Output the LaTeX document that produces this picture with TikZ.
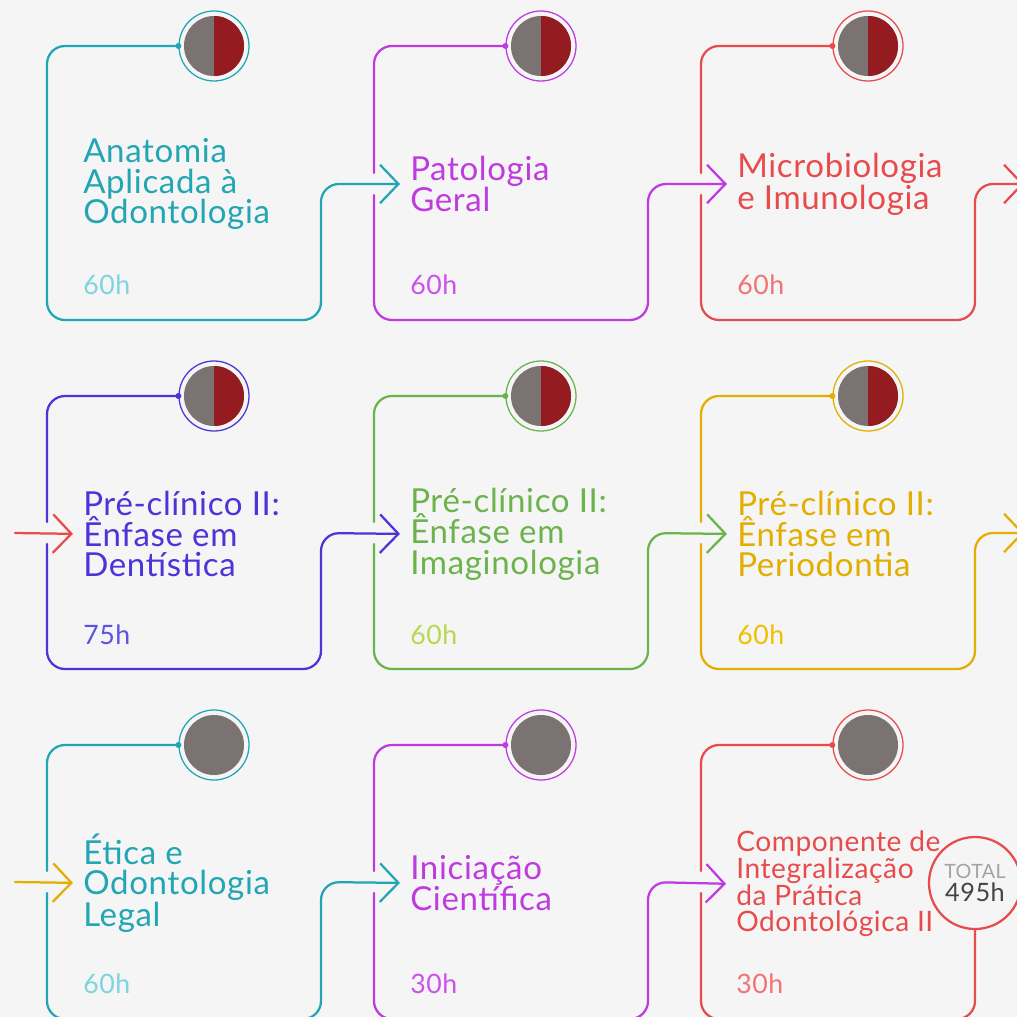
\documentclass[tikz,border=0pt]{standalone}
\usepackage{fontspec}
\setmainfont{Lato}[LetterSpace=2]
\usetikzlibrary{arrows.meta}
\definecolor{bgGrey}{HTML}{F5F5F6}
\definecolor{cTeal}{HTML}{22A6B3}\definecolor{hTeal}{HTML}{7ED4DF}
\definecolor{cMag}{HTML}{BF3BDF}\definecolor{hMag}{HTML}{CB52EC}
\definecolor{cRed}{HTML}{E84B4B}\definecolor{hRed}{HTML}{F07474}
\definecolor{cBlue}{HTML}{4B34D8}\definecolor{hBlue}{HTML}{5E52E0}
\definecolor{cGreen}{HTML}{6BB44B}\definecolor{hGreen}{HTML}{B6D94E}
\definecolor{cGold}{HTML}{E2AE00}\definecolor{hGold}{HTML}{EFC000}
\definecolor{iconGrey}{HTML}{7B7371}\definecolor{iconRed}{HTML}{941B1F}
\definecolor{totGrey}{HTML}{A3A3A3}\definecolor{totDark}{HTML}{454545}
\tikzset{
  edge/.style={line width=1.6pt, rounded corners=0.45cm, line cap=round},
  into/.style={-{Straight Barb[length=4.6mm,width=9.6mm]}, shorten >=0.25cm},
  ring/.style={circle, draw, line width=0.9pt, minimum size=1.75cm, inner sep=0pt},
  title/.style={anchor=west, align=left, inner sep=0pt, font=\fontsize{23.5}{21.5}\selectfont},
  hours/.style={anchor=base west, inner sep=0pt, font=\fontsize{19}{19}\selectfont},
}
% #1 name, #2 left, #3 top, #4 colour, #5 hours colour, #6 title, #7 hours, #8 half red
\newcommand\course[8]{%
  \node[ring, draw=#4] (#1i) at (#2+167,#3) {};
  \fill[iconGrey] (#1i) circle (0.75cm);
  \ifnum#8=1 \fill[iconRed] (#1i) ++(0,0.75cm) arc (90:-90:0.75cm) -- cycle;\fi
  \fill[#4] (#1i.west) circle (0.075cm);
  \node[title, text=#4] (#1t) at (#2+36,#3+138) {#6};
  \node[hours, text=#5] (#1h) at (#2+36,#3+248) {#7};
}

\begin{document}
\begin{tikzpicture}[x=0.025cm, y=-0.025cm]
  %%%%% START %%%%%
  \useasboundingbox (0,0) rectangle (1017,1017);
  \fill[bgGrey] (0,0) rectangle (1017,1017);

  % first row
  \course{a}{47}{46}{cTeal}{hTeal}{Anatomia\\Aplicada à\\Odontologia}{60h}{1}
  \course{b}{374}{46}{cMag}{hMag}{Patologia\\Geral}{60h}{1}
  \course{c}{701}{46}{cRed}{hRed}{Microbiologia\\e Imunologia}{60h}{1}

  % second row
  \course{d}{47}{396}{cBlue}{hBlue}{Pré-clínico II:\\Ênfase em\\Dentística}{75h}{1}
  \course{e}{374}{396}{cGreen}{hGreen}{Pré-clínico II:\\Ênfase em\\Imaginologia}{60h}{1}
  \course{f}{701}{396}{cGold}{hGold}{Pré-clínico II:\\Ênfase em\\Periodontia}{60h}{1}

  % third row
  \course{g}{47}{745}{cTeal}{hTeal}{Ética e\\Odontologia\\Legal}{60h}{0}
  \course{h}{374}{745}{cMag}{hMag}{Iniciação\\Científica}{30h}{0}
  \node[ring, draw=cRed] (ii) at (868,745) {};
  \fill[iconGrey] (ii) circle (0.75cm);
  \fill[cRed] (ii.west) circle (0.075cm);
  \node[circle, draw=cRed, line width=1.6pt, minimum size=2.3cm,
    inner sep=0pt, align=center] (tot) at (975,883)
    {\fontsize{14}{14}\selectfont\color{totGrey}TOTAL\\[2pt]
     \fontsize{18}{18}\selectfont\color{totDark}495h};
  \node[title, text=cRed, font=\fontsize{20}{19}\selectfont] (it) at (736,884)
    {Componente de\\Integralização\\da Prática\\Odontológica II};
  \node[hours, text=hRed] (ih) at (736,993) {30h};

  % wrap arrows
  \coordinate (cOut) at (1024,184);
  \coordinate (dIn) at (15,533);
  \coordinate (fOut) at (1024,533);
  \coordinate (gIn) at (15,882);

  % card outlines
  \draw[edge, cTeal, into] (ai.west) -- (47,46) -- (47,320) -- (321,320) -- (321,184) -- (bt.west);
  \draw[edge, cMag, into] (bi.west) -- (374,46) -- (374,173) (374,195) -- (374,320) -- (648,320) -- (648,184) -- (ct.west);
  \draw[edge, cRed, into, shorten >=0pt] (ci.west) -- (701,46) -- (701,173) (701,195) -- (701,320) -- (975,320) -- (975,184) -- (cOut);
  \draw[edge, cRed, into] (dIn) -- (dt.west);
  \draw[edge, cBlue, into] (di.west) -- (47,396) -- (47,522) (47,544) -- (47,669) -- (321,669) -- (321,533) -- (et.west);
  \draw[edge, cGreen, into] (ei.west) -- (374,396) -- (374,522) (374,544) -- (374,669) -- (648,669) -- (648,533) -- (ft.west);
  \draw[edge, cGold, into, shorten >=0pt] (fi.west) -- (701,396) -- (701,522) (701,544) -- (701,669) -- (975,669) -- (975,533) -- (fOut);
  \draw[edge, cGold, into] (gIn) -- (gt.west);
  \draw[edge, cTeal, into] (gi.west) -- (47,745) -- (47,871) (47,893) -- (47,1019) -- (321,1019) -- (321,882) -- (ht.west);
  \draw[edge, cMag, into] (hi.west) -- (374,745) -- (374,871) (374,893) -- (374,1019) -- (648,1019) -- (648,882) -- (it.west);
  \draw[edge, cRed] (ii.west) -- (701,745) -- (701,871) (701,893) -- (701,1019) -- (975,1019) -- (tot.south);
  %%%%% END %%%%%
\end{tikzpicture}
\end{document}
